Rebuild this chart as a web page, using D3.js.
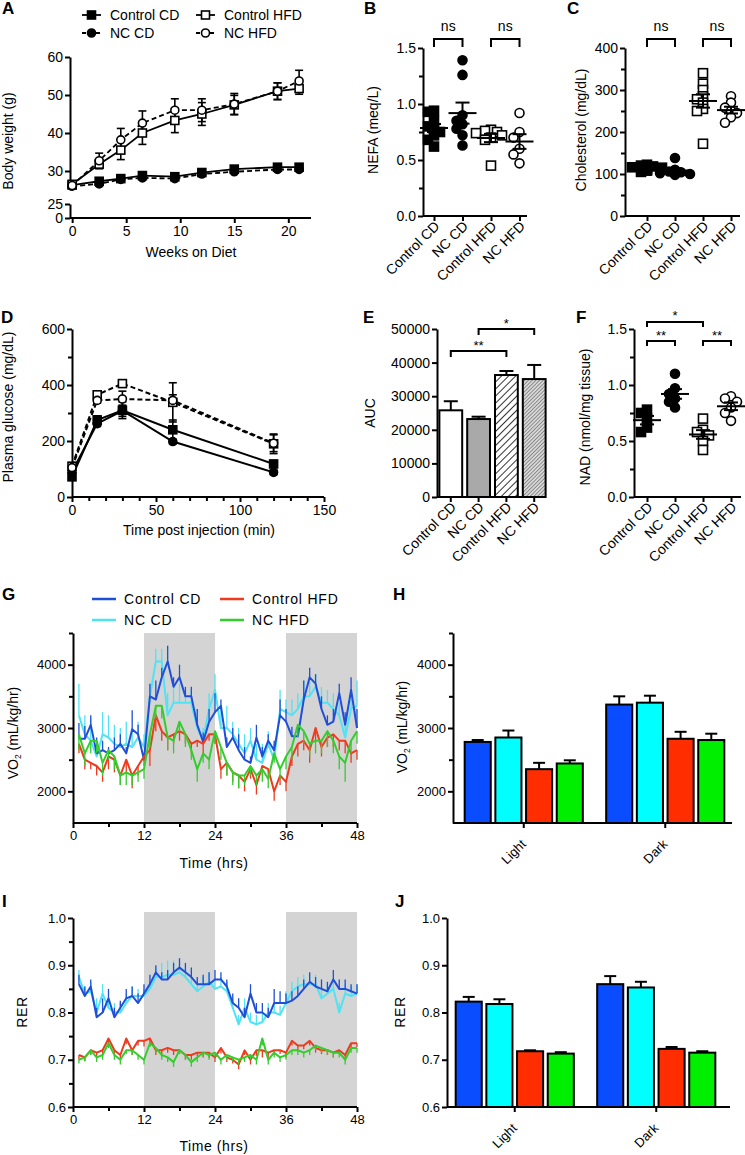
<!DOCTYPE html>
<html><head><meta charset="utf-8">
<script src="https://cdn.jsdelivr.net/npm/d3@7"></script>
<style>body{margin:0;background:#fff}</style>
</head><body>
<svg id="chart" width="745" height="1155"></svg>
<script>
// ---------------- DATA ----------------
const groups4 = ["Control CD","NC CD","Control HFD","NC HFD"];
// A: body weight
const weeksA = [0,2.5,4.5,6.5,9.5,12,15,19,21];
const bwControlCD = [26.3,27.3,28.0,28.8,28.5,29.6,30.5,31.0,31.0];
const bwNCCD = [26.0,26.6,27.8,28.2,28.0,29.2,29.8,30.4,30.4];
const bwControlHFD = [26.5,31.8,35.5,40.0,43.3,45.0,47.4,51.0,51.7];
const bwNCHFD = [26.2,32.7,38.2,42.6,46.0,46.0,47.6,51.0,53.7];
const bwErrControlCD = [0.5,0.5,0.4,0.5,0.5,0.5,0.5,0.5,0.5];
const bwErrNCCD = [0.4,0.5,0.4,0.4,0.4,0.4,0.4,0.4,0.4];
const bwErrControlHFD = [0.5,1.2,2.5,3.0,3.2,3.0,2.5,2.2,1.5];
const bwErrNCHFD = [0.5,2.0,3.0,3.2,3.0,3.0,2.8,2.2,2.8];
const ticksAx = [0,5,10,15,20];
const ticksAyUpper = [30,40,50,60];
const ticksAyLower = [0,25];
// B: NEFA
const nefaControlCD = [0.94,0.93,0.85,0.80,0.78,0.75,0.72,0.68,0.62];
const nefaNCCD = [1.39,1.26,0.90,0.85,0.82,0.78,0.72,0.63];
const nefaControlHFD = [0.77,0.76,0.75,0.74,0.72,0.70,0.68,0.45];
const nefaNCHFD = [0.92,0.75,0.70,0.60,0.55,0.47];
// C: cholesterol
const cholControlCD = [122,120,118,116,115,113,110,108,105];
const cholNCCD = [138,110,106,104,102,100,98];
const cholControlHFD = [340,315,300,285,278,270,255,250,172];
const cholNCHFD = [285,270,258,250,245,235,222];
// D: glucose tolerance
const timeD = [0,15,30,60,120];
const gluControlCD = [72,275,310,240,118];
const gluNCCD = [90,262,308,198,88];
const gluControlHFD = [110,365,405,338,190];
const gluNCHFD = [105,345,350,345,192];
const gluErrControlCD = [8,15,30,35,12];
const gluErrNCCD = [5,10,20,8,8];
const gluErrControlHFD = [10,12,8,70,35];
const gluErrNCHFD = [10,10,28,20,30];
// E: AUC
const aucMean = [25800,23200,36300,35100];
const aucSem = [2700,700,1200,4200];
// F: NAD
const nadControlCD = [0.78,0.75,0.70,0.62,0.58];
const nadNCCD = [1.10,0.97,0.92,0.88,0.85,0.80];
const nadControlHFD = [0.70,0.60,0.58,0.55,0.50,0.42];
const nadNCHFD = [0.90,0.88,0.85,0.80,0.75,0.68];
// G / I: time series (hours)
const hours = [1,2,3,4,5,6,7,8,9,10,11,12,13,14,15,16,17,18,19,20,21,22,23,24,25,26,27,28,29,30,31,32,33,34,35,36,37,38,39,40,41,42,43,44,45,46,47,48];
const vo2ControlCD = [2830,2830,3050,2600,2650,2600,2650,2750,2600,2980,2900,2500,3500,3450,3800,4050,3650,3800,3500,3500,3050,2780,3100,3250,3350,2700,2850,2650,2500,2450,2850,2550,2800,2650,3200,3100,2870,2870,3450,3800,3700,3300,3050,3100,3550,3050,3600,3000];
const vo2NCCD = [3200,2900,2800,2550,2900,2850,2750,2700,2750,2700,2850,2700,3500,4050,4050,3200,3400,3400,3400,3400,3000,2800,3300,3600,3000,3000,2900,2750,2600,2800,2500,2450,2750,2500,3300,3250,3200,3300,3500,3500,3650,3400,3400,3300,3200,2850,3300,3350];
const vo2ControlHFD = [2750,2500,2450,2400,2300,2550,2500,2250,2500,2250,2400,2550,2650,3200,2950,2850,2900,2950,2900,2750,2800,2750,2900,2900,2350,2450,2300,2250,2150,2350,2100,2400,2350,2000,2250,2150,2550,2750,2800,2650,3000,2700,2850,2900,2800,2800,2600,2650];
const vo2NCHFD = [2900,2600,2800,2800,2450,2650,2550,2250,2300,2250,2300,2350,2900,3350,3350,2850,2800,3100,2900,2650,2350,2600,2500,2950,2700,2450,2300,2250,2250,2400,2250,2350,2200,2600,2350,2550,2700,3050,2950,2750,2800,2800,2950,2800,2550,2450,2800,2950];
const vo2ErrControlCD = [250,200,150,250,150,100,200,150,100,300,150,100,200,300,150,250,150,200,150,150,250,150,200,300,100,150,150,250,200,100,200,150,100,150,250,200,150,150,300,150,150,200,150,200,150,200,200,300];
const vo2ErrNCCD = [500,300,350,250,350,350,300,300,350,250,250,200,200,200,200,350,250,300,200,200,300,200,250,250,300,350,200,250,300,200,250,300,200,250,300,200,250,250,250,250,200,250,200,250,200,250,300,400];
const vo2ErrControlHFD = [150,150,100,150,150,200,200,150,200,200,150,150,250,250,150,200,150,150,150,150,100,150,100,150,150,200,150,200,150,150,150,150,150,150,150,150,150,200,150,200,200,150,150,200,150,200,150,150];
const vo2ErrNCHFD = [250,200,200,200,200,150,200,150,200,150,150,150,200,200,200,200,200,150,200,150,200,150,150,200,200,200,200,200,150,150,150,200,150,150,150,200,200,200,200,200,200,200,250,200,200,300,200,200];
const rerControlCD = [0.860,0.835,0.855,0.790,0.800,0.830,0.790,0.810,0.830,0.835,0.820,0.840,0.860,0.885,0.870,0.870,0.885,0.895,0.885,0.875,0.860,0.860,0.860,0.870,0.870,0.855,0.820,0.810,0.790,0.840,0.800,0.800,0.790,0.820,0.820,0.820,0.825,0.835,0.850,0.865,0.855,0.850,0.845,0.870,0.850,0.850,0.845,0.840];
const rerNCCD = [0.875,0.840,0.845,0.800,0.840,0.810,0.800,0.800,0.820,0.835,0.835,0.835,0.850,0.875,0.875,0.880,0.880,0.885,0.875,0.860,0.845,0.855,0.865,0.850,0.855,0.845,0.810,0.775,0.810,0.780,0.775,0.780,0.800,0.800,0.795,0.820,0.845,0.855,0.860,0.860,0.860,0.830,0.840,0.850,0.800,0.840,0.835,0.840];
const rerControlHFD = [0.710,0.705,0.720,0.715,0.720,0.745,0.720,0.710,0.745,0.720,0.740,0.740,0.745,0.720,0.720,0.725,0.720,0.720,0.710,0.710,0.715,0.715,0.715,0.705,0.725,0.705,0.700,0.690,0.720,0.700,0.720,0.720,0.715,0.720,0.720,0.715,0.740,0.730,0.730,0.740,0.725,0.720,0.720,0.715,0.720,0.710,0.735,0.735];
const rerNCHFD = [0.700,0.705,0.720,0.705,0.710,0.735,0.710,0.700,0.720,0.720,0.710,0.700,0.735,0.725,0.710,0.705,0.695,0.720,0.710,0.695,0.705,0.715,0.710,0.715,0.700,0.710,0.705,0.700,0.705,0.710,0.700,0.745,0.700,0.715,0.705,0.710,0.720,0.720,0.715,0.720,0.730,0.725,0.720,0.715,0.715,0.700,0.725,0.725];
const rerErrControlCD = [0.020,0.020,0.015,0.020,0.030,0.020,0.020,0.015,0.020,0.020,0.020,0.020,0.020,0.015,0.015,0.020,0.020,0.020,0.020,0.020,0.015,0.020,0.025,0.020,0.015,0.015,0.020,0.020,0.020,0.020,0.020,0.020,0.020,0.030,0.025,0.020,0.020,0.020,0.020,0.020,0.020,0.020,0.020,0.020,0.020,0.020,0.015,0.020];
const rerErrNCCD = [0.015,0.015,0.020,0.030,0.020,0.020,0.020,0.020,0.020,0.020,0.015,0.015,0.015,0.020,0.030,0.030,0.030,0.020,0.020,0.015,0.020,0.020,0.020,0.020,0.020,0.020,0.020,0.020,0.020,0.020,0.020,0.020,0.020,0.020,0.020,0.025,0.020,0.020,0.020,0.020,0.020,0.020,0.020,0.020,0.020,0.020,0.020,0.020];
const rerErrControlHFD = [0.010,0.008,0.010,0.012,0.010,0.012,0.010,0.008,0.012,0.010,0.010,0.012,0.015,0.010,0.012,0.010,0.010,0.008,0.010,0.010,0.008,0.010,0.010,0.010,0.012,0.010,0.008,0.010,0.010,0.010,0.012,0.015,0.010,0.010,0.008,0.010,0.010,0.010,0.008,0.010,0.010,0.008,0.010,0.010,0.008,0.010,0.010,0.008];
const rerErrNCHFD = [0.008,0.008,0.010,0.010,0.010,0.010,0.010,0.010,0.008,0.010,0.010,0.010,0.008,0.010,0.010,0.010,0.010,0.008,0.010,0.010,0.010,0.008,0.010,0.010,0.010,0.010,0.008,0.010,0.010,0.010,0.010,0.015,0.010,0.010,0.010,0.010,0.010,0.010,0.010,0.010,0.010,0.010,0.010,0.010,0.010,0.010,0.010,0.010];
// H / J: bar summaries
const phases = ["Light","Dark"];
const vo2Light = [2780,2850,2350,2440];
const vo2LightErr = [30,110,100,50];
const vo2Dark = [3370,3400,2830,2810];
const vo2DarkErr = [130,110,110,100];
const rerLight = [0.823,0.818,0.718,0.713];
const rerLightErr = [0.010,0.010,0.002,0.003];
const rerDark = [0.860,0.853,0.723,0.715];
const rerDarkErr = [0.017,0.012,0.004,0.003];

// ---------------- HELPERS ----------------
const svg = d3.select("#chart");
const FONT = '"Liberation Sans", Arial, Helvetica, sans-serif';
const lineCol = ["#1f4fd6","#4fe3f3","#ee3b1f","#35cc2e"];
const barCol = ["#0a4cff","#00ffff","#ff2d00","#00ee00"];

function txt(x,y,s,o={}){
  const t = svg.append("text")
    .attr("transform",`translate(${x},${y})`+(o.rotate?` rotate(${o.rotate})`:""))
    .attr("font-size",o.size||14).attr("font-family",FONT)
    .attr("text-anchor",o.anchor||"start").attr("font-weight",o.weight||"normal")
    .attr("fill","#000");
  if(o.ls) t.attr("letter-spacing",o.ls);
  t.text(s); return t;
}
function vo2Label(x,y,size){
  const t = svg.append("text").attr("transform",`translate(${x},${y}) rotate(-90)`)
    .attr("font-size",size).attr("font-family",FONT).attr("text-anchor","middle").attr("fill","#000");
  t.append("tspan").text("VO");
  t.append("tspan").attr("font-size",size*0.6).attr("dy",3).text("2");
  t.append("tspan").attr("dy",-3).text(" (mL/kg/hr)");
}
function styleAxes(){
  svg.selectAll(".tick line, .domain").attr("stroke","#000").attr("stroke-width",2);
}
function axisL(x, scale, major, fmt, minor, size, len=5){
  const g = svg.append("g").attr("transform",`translate(${x},0)`)
    .call(d3.axisLeft(scale).tickValues(major).tickFormat(fmt).tickSizeInner(len).tickSizeOuter(0).tickPadding(2));
  g.selectAll("text").attr("font-size",size).attr("font-family",FONT).attr("fill","#000");
  if(minor){
    const m = svg.append("g").attr("transform",`translate(${x},0)`)
      .call(d3.axisLeft(scale).tickValues(minor).tickFormat("").tickSizeInner(len-1).tickSizeOuter(0));
    m.select(".domain").remove();
  }
  styleAxes(); return g;
}
function axisB(y, scale, major, fmt, minor, size, len, dom){
  const g = svg.append("g").attr("transform",`translate(0,${y})`)
    .call(d3.axisBottom(scale).tickValues(major).tickFormat(fmt).tickSizeInner(len).tickSizeOuter(0).tickPadding(3));
  g.selectAll("text").attr("font-size",size).attr("font-family",FONT).attr("fill","#000");
  if(dom) g.select(".domain").attr("d",`M${dom[0]},0H${dom[1]}`);
  if(minor){
    const m = svg.append("g").attr("transform",`translate(0,${y})`)
      .call(d3.axisBottom(scale).tickValues(minor).tickFormat("").tickSizeInner(len-1).tickSizeOuter(0));
    m.select(".domain").remove();
  }
  styleAxes(); return g;
}
function rotLabels(g, dx, dy){
  g.selectAll("text").attr("x",0).attr("y",0).attr("dy",null)
    .attr("text-anchor","end").attr("transform",`translate(${dx},${dy}) rotate(-45)`);
}
function marker(g,type,x,y,s){
  let m;
  if(type[0]==="s") m = g.append("rect").attr("x",x-s/2).attr("y",y-s/2).attr("width",s).attr("height",s);
  else m = g.append("circle").attr("cx",x).attr("cy",y).attr("r",s/2);
  m.attr("fill",type[2]==="F"?"#000":"#fff").attr("stroke","#000").attr("stroke-width",1.6);
}
const mTypes = ["sqF","ciF","sqO","ciO"];
function errBar(g,x,y1,y2,cap,col="#000",w=1.6){
  g.append("line").attr("x1",x).attr("x2",x).attr("y1",y1).attr("y2",y2).attr("stroke",col).attr("stroke-width",w);
  if(cap){
    g.append("line").attr("x1",x-cap).attr("x2",x+cap).attr("y1",y2).attr("y2",y2).attr("stroke",col).attr("stroke-width",w);
  }
}
function bracket(x1,x2,y,leg,label,ty,size){
  svg.append("path").attr("d",`M${x1},${y+leg}V${y}H${x2}V${y+leg}`)
    .attr("fill","none").attr("stroke","#000").attr("stroke-width",2);
  txt((x1+x2)/2,ty,label,{size:size,anchor:"middle"});
}
function scatterPanel(xs, ys, sets){
  const g = svg.append("g");
  sets.forEach((vals,k)=>{
    const cx = xs(groups4[k]);
    const placed=[];
    vals.forEach(v=>{
      const py = ys(v);
      let px = cx;
      for(const o of [0,-6,6,-11,11,-15,15]){
        if(placed.every(p=>Math.hypot(p.x-(cx+o),p.y-py)>=6)){px=cx+o;break;}
      }
      placed.push({x:px,y:py});
    });
    placed.forEach(p=>marker(g,mTypes[k],p.x,p.y,9));
    const mean = d3.mean(vals), sem = d3.deviation(vals)/Math.sqrt(vals.length);
    g.append("line").attr("x1",cx-14).attr("x2",cx+14).attr("y1",ys(mean)).attr("y2",ys(mean)).attr("stroke","#000").attr("stroke-width",2);
    errBar(g,cx,ys(mean),ys(mean+sem),7,"#000",2);
    errBar(g,cx,ys(mean),ys(mean-sem),7,"#000",2);
  });
}

// ---------------- PANEL LETTERS ----------------
[["A",2,14],["B",364,14],["C",567,14],["D",1,323],["E",363,323],["F",576,323],
 ["G",2,600],["H",393,600],["I",2,907],["J",395,907]].forEach(d=>txt(d[1],d[2],d[0],{size:17,weight:"bold"}));

// ---------------- A ----------------
(function(){
  const x = d3.scaleLinear([-0.2,22.1],[70,311]);
  const yU = d3.scaleLinear([25,60],[190,57]);
  const yL = d3.scaleLinear([0,25],[218,204]);
  axisL(70,yU,ticksAyUpper,d3.format("d"),null,14);
  axisL(70,yL,ticksAyLower,d3.format("d"),null,14);
  axisB(218,x,ticksAx,d3.format("d"),null,14,5,[70,311]);
  txt(191,257,"Weeks on Diet",{size:14,anchor:"middle"});
  txt(13,141,"Body weight (g)",{size:14,anchor:"middle",rotate:-90});
  const series = [bwControlCD,bwNCCD,bwControlHFD,bwNCHFD];
  const errs = [bwErrControlCD,bwErrNCCD,bwErrControlHFD,bwErrNCHFD];
  const g = svg.append("g");
  series.forEach((s,k)=>{ s.forEach((v,i)=>{
    errBar(g,x(weeksA[i]),yU(v),yU(v+errs[k][i]),4);
    errBar(g,x(weeksA[i]),yU(v),yU(v-errs[k][i]),4);
  });});
  series.forEach((s,k)=>{
    g.append("path").attr("d",d3.line().x((d,i)=>x(weeksA[i])).y(d=>yU(d))(s))
      .attr("fill","none").attr("stroke","#000").attr("stroke-width",1.8)
      .attr("stroke-dasharray",k%2===1?"5,3":null);
  });
  series.forEach((s,k)=>s.forEach((v,i)=>marker(g,mTypes[k],x(weeksA[i]),yU(v),8)));
  // legend
  const leg = [[82,15,0],[196,15,2],[82,33,1],[196,33,3]];
  leg.forEach(([lx,ly,k])=>{
    g.append("line").attr("x1",lx).attr("x2",lx+19).attr("y1",ly).attr("y2",ly).attr("stroke","#000")
      .attr("stroke-width",1.8).attr("stroke-dasharray",k%2===1?"4,3":null);
    marker(g,mTypes[k],lx+9.5,ly,8);
    txt(lx+28,ly+5,groups4[k],{size:14});
  });
})();

// ---------------- B ----------------
(function(){
  const y = d3.scaleLinear([0,1.5],[216,48]);
  const x = d3.scalePoint(groups4,[434,519.5]);
  axisL(423,y,[0,0.5,1.0,1.5],d3.format(".1f"),[0.25,0.75,1.25],14);
  const gx = axisB(216,x,groups4,d=>d,null,14,5,[423,527]);
  rotLabels(gx,6,11);
  txt(378,130,"NEFA (meq/L)",{size:14,anchor:"middle",rotate:-90});
  scatterPanel(x,y,[nefaControlCD,nefaNCCD,nefaControlHFD,nefaNCHFD]);
  bracket(x(groups4[0]),x(groups4[1]),39,8,"ns",31,14);
  bracket(x(groups4[2]),x(groups4[3]),39,8,"ns",31,14);
})();

// ---------------- C ----------------
(function(){
  const y = d3.scaleLinear([0,400],[216,48]);
  const x = d3.scalePoint(groups4,[647,731]);
  axisL(625,y,[0,100,200,300,400],d3.format("d"),[50,150,250,350],14);
  const gx = axisB(216,x,groups4,d=>d,null,14,5,[625,740]);
  rotLabels(gx,6,11);
  txt(586,130,"Cholesterol (mg/dL)",{size:14,anchor:"middle",rotate:-90});
  scatterPanel(x,y,[cholControlCD,cholNCCD,cholControlHFD,cholNCHFD]);
  bracket(x(groups4[0]),x(groups4[1]),39,8,"ns",31,14);
  bracket(x(groups4[2]),x(groups4[3]),39,8,"ns",31,14);
})();

// ---------------- D ----------------
(function(){
  const x = d3.scaleLinear([0,150],[72,324]);
  const y = d3.scaleLinear([0,600],[497,329]);
  axisL(72,y,[0,200,400,600],d3.format("d"),[100,300,500],14);
  axisB(497,x,[0,50,100,150],d3.format("d"),[10,20,30,40,60,70,80,90,110,120,130,140],14,5,[72,324]);
  txt(199,535,"Time post injection (min)",{size:14,anchor:"middle"});
  txt(13,407,"Plasma glucose (mg/dL)",{size:14,anchor:"middle",rotate:-90});
  const series=[gluControlCD,gluNCCD,gluControlHFD,gluNCHFD];
  const errs=[gluErrControlCD,gluErrNCCD,gluErrControlHFD,gluErrNCHFD];
  const g = svg.append("g");
  series.forEach((s,k)=>s.forEach((v,i)=>{
    errBar(g,x(timeD[i]),y(v),y(v+errs[k][i]),4);
    errBar(g,x(timeD[i]),y(v),y(v-errs[k][i]),4);
  }));
  series.forEach((s,k)=>{
    g.append("path").attr("d",d3.line().x((d,i)=>x(timeD[i])).y(d=>y(d))(s))
      .attr("fill","none").attr("stroke","#000").attr("stroke-width",2)
      .attr("stroke-dasharray",k>=2?"5,3":null);
  });
  series.forEach((s,k)=>s.forEach((v,i)=>marker(g,mTypes[k],x(timeD[i]),y(v),8)));
})();

// ---------------- E ----------------
(function(){
  const y = d3.scaleLinear([0,50000],[497,329]);
  const x = d3.scaleBand(groups4,[438,547]).paddingInner(0.18).paddingOuter(0.05);
  const defs = svg.append("defs");
  const p1 = defs.append("pattern").attr("id","hatch1").attr("patternUnits","userSpaceOnUse")
    .attr("width",5).attr("height",5).attr("patternTransform","rotate(45)");
  p1.append("rect").attr("width",5).attr("height",5).attr("fill","#fff");
  p1.append("line").attr("x1",0).attr("x2",0).attr("y1",0).attr("y2",5).attr("stroke","#000").attr("stroke-width",1.6);
  const p2 = defs.append("pattern").attr("id","hatch2").attr("patternUnits","userSpaceOnUse")
    .attr("width",2.6).attr("height",2.6).attr("patternTransform","rotate(45)");
  p2.append("rect").attr("width",2.6).attr("height",2.6).attr("fill","#d8d8d8");
  p2.append("line").attr("x1",0).attr("x2",0).attr("y1",0).attr("y2",2.6).attr("stroke","#444").attr("stroke-width",1);
  const fills = ["#fff","#a9a9a9","url(#hatch1)","url(#hatch2)"];
  const g = svg.append("g");
  aucMean.forEach((v,k)=>{
    const cx = x(groups4[k])+x.bandwidth()/2;
    errBar(g,cx,y(v),y(v+aucSem[k]),7,"#000",2);
    g.append("rect").attr("x",x(groups4[k])).attr("y",y(v)).attr("width",x.bandwidth()).attr("height",y(0)-y(v))
      .attr("fill",fills[k]).attr("stroke","#000").attr("stroke-width",2);
  });
  axisL(437,y,[0,10000,20000,30000,40000,50000],d3.format("d"),null,14);
  const gx = axisB(497,x,groups4,d=>d,null,14,5,[437,542]);
  gx.selectAll(".tick").attr("transform",d=>`translate(${x(d)+x.bandwidth()/2},0)`);
  rotLabels(gx,6,11);
  txt(375,413,"AUC",{size:14,anchor:"middle",rotate:-90});
  const c = k=>x(groups4[k])+x.bandwidth()/2;
  bracket(c(0),c(2),351,6,"**",350,13);
  bracket(c(1),c(3),329,6,"*",328,13);
})();

// ---------------- F ----------------
(function(){
  const y = d3.scaleLinear([0,1.5],[497,329]);
  const x = d3.scalePoint(groups4,[647,731]);
  axisL(634,y,[0,0.5,1.0,1.5],d3.format(".1f"),[0.25,0.75,1.25],14);
  const gx = axisB(497,x,groups4,d=>d,null,14,5,[634,741]);
  rotLabels(gx,6,11);
  txt(590,417,"NAD (nmol/mg tissue)",{size:14,anchor:"middle",rotate:-90});
  scatterPanel(x,y,[nadControlCD,nadNCCD,nadControlHFD,nadNCHFD]);
  bracket(x(groups4[0]),x(groups4[2]),322,5,"*",320,13);
  bracket(x(groups4[0]),x(groups4[1]),341,5,"**",340,13);
  bracket(x(groups4[2]),x(groups4[3]),341,5,"**",340,13);
})();

// ---------------- G / I time series ----------------
function tsPanel(y, top, bottom, series, errs, dirs){
  const x = d3.scaleLinear([0,48],[73,357]);
  [[12,24],[36,48]].forEach(([a,b])=>svg.append("rect").attr("x",x(a)).attr("y",top)
    .attr("width",x(b)-x(a)).attr("height",bottom-top).attr("fill","#d4d4d4"));
  const g = svg.append("g");
  [1,0,2,3].forEach(k=>{
    series[k].forEach((v,i)=>g.append("line").attr("x1",x(hours[i])).attr("x2",x(hours[i]))
      .attr("y1",y(v)).attr("y2",y(v+dirs[k]*errs[k][i])).attr("stroke",lineCol[k]).attr("stroke-width",1.3));
    g.append("path").attr("d",d3.line().x((d,i)=>x(hours[i])).y(d=>y(d))(series[k]))
      .attr("fill","none").attr("stroke",lineCol[k]).attr("stroke-width",2).attr("stroke-linejoin","round");
  });
  axisB(bottom,x,[0,12,24,36,48],d3.format("d"),[6,18,30,42],13,5,[73,357]);
  return x;
}
(function(){
  const y = d3.scaleLinear([1500,4500],[823,633]);
  tsPanel(y,633,823,[vo2ControlCD,vo2NCCD,vo2ControlHFD,vo2NCHFD],
    [vo2ErrControlCD,vo2ErrNCCD,vo2ErrControlHFD,vo2ErrNCHFD],[1,1,-1,-1]);
  axisL(73,y,[2000,3000,4000],d3.format("d"),[2500,3500,4500],13);
  txt(214,868,"Time (hrs)",{size:14,anchor:"middle",ls:0.6});
  vo2Label(18,733,14);
  const leg = [[92,599,0],[220,599,2],[92,620,1],[220,620,3]];
  leg.forEach(([lx,ly,k])=>{
    svg.append("line").attr("x1",lx).attr("x2",lx+24).attr("y1",ly).attr("y2",ly).attr("stroke",lineCol[k]).attr("stroke-width",2.5);
    txt(lx+32,ly+5,groups4[k],{size:14,ls:0.8});
  });
})();
(function(){
  const y = d3.scaleLinear([0.6,1.0],[1107,918]);
  tsPanel(y,912,1107,[rerControlCD,rerNCCD,rerControlHFD,rerNCHFD],
    [rerErrControlCD,rerErrNCCD,rerErrControlHFD,rerErrNCHFD],[1,1,-1,-1]);
  axisL(73,y,[0.6,0.7,0.8,0.9,1.0],d3.format(".1f"),[0.65,0.75,0.85,0.95],13);
  txt(214,1151,"Time (hrs)",{size:14,anchor:"middle",ls:0.6});
  txt(27,1012,"RER",{size:14,anchor:"middle",rotate:-90,ls:0.6});
})();

// ---------------- H / J bars ----------------
function barPanel(axisX, y, yMinVal, bottom, range, vals, errs, ticks, fmt, minors, xEnd){
  const x0 = d3.scaleBand(phases,range).paddingInner(0.1).paddingOuter(0.05);
  const x1 = d3.scaleBand(d3.range(4),[0,x0.bandwidth()]).padding(0.15);
  const g = svg.append("g");
  phases.forEach((ph,pi)=>{
    vals[pi].forEach((v,k)=>{
      const bx = x0(ph)+x1(k);
      errBar(g,bx+x1.bandwidth()/2,y(v),y(v+errs[pi][k]),6,"#000",2);
      g.append("rect").attr("x",bx).attr("y",y(v)).attr("width",x1.bandwidth()).attr("height",bottom-y(v))
        .attr("fill",barCol[k]).attr("stroke","#000").attr("stroke-width",2);
    });
  });
  axisL(axisX,y,ticks,fmt,minors,13);
  const gx = axisB(bottom,x0,phases,d=>d,null,13,5,[axisX,xEnd]);
  gx.selectAll(".tick").attr("transform",d=>`translate(${x0(d)+x0.bandwidth()/2},0)`);
  rotLabels(gx,3,22);
}
(function(){
  const y = d3.scaleLinear([1500,4500],[823,633]);
  barPanel(453,y,1500,823,[453,736],[vo2Light,vo2Dark],[vo2LightErr,vo2DarkErr],
    [2000,3000,4000],d3.format("d"),[2500,3500,4500],732);
  vo2Label(407,727,14);
})();
(function(){
  const y = d3.scaleLinear([0.6,1.0],[1107,918]);
  barPanel(447,y,0.6,1107,[444,727],[rerLight,rerDark],[rerLightErr,rerDarkErr],
    [0.6,0.7,0.8,0.9,1.0],d3.format(".1f"),null,730);
  txt(405,1012,"RER",{size:14,anchor:"middle",rotate:-90,ls:0.6});
})();
</script>
</body></html>
